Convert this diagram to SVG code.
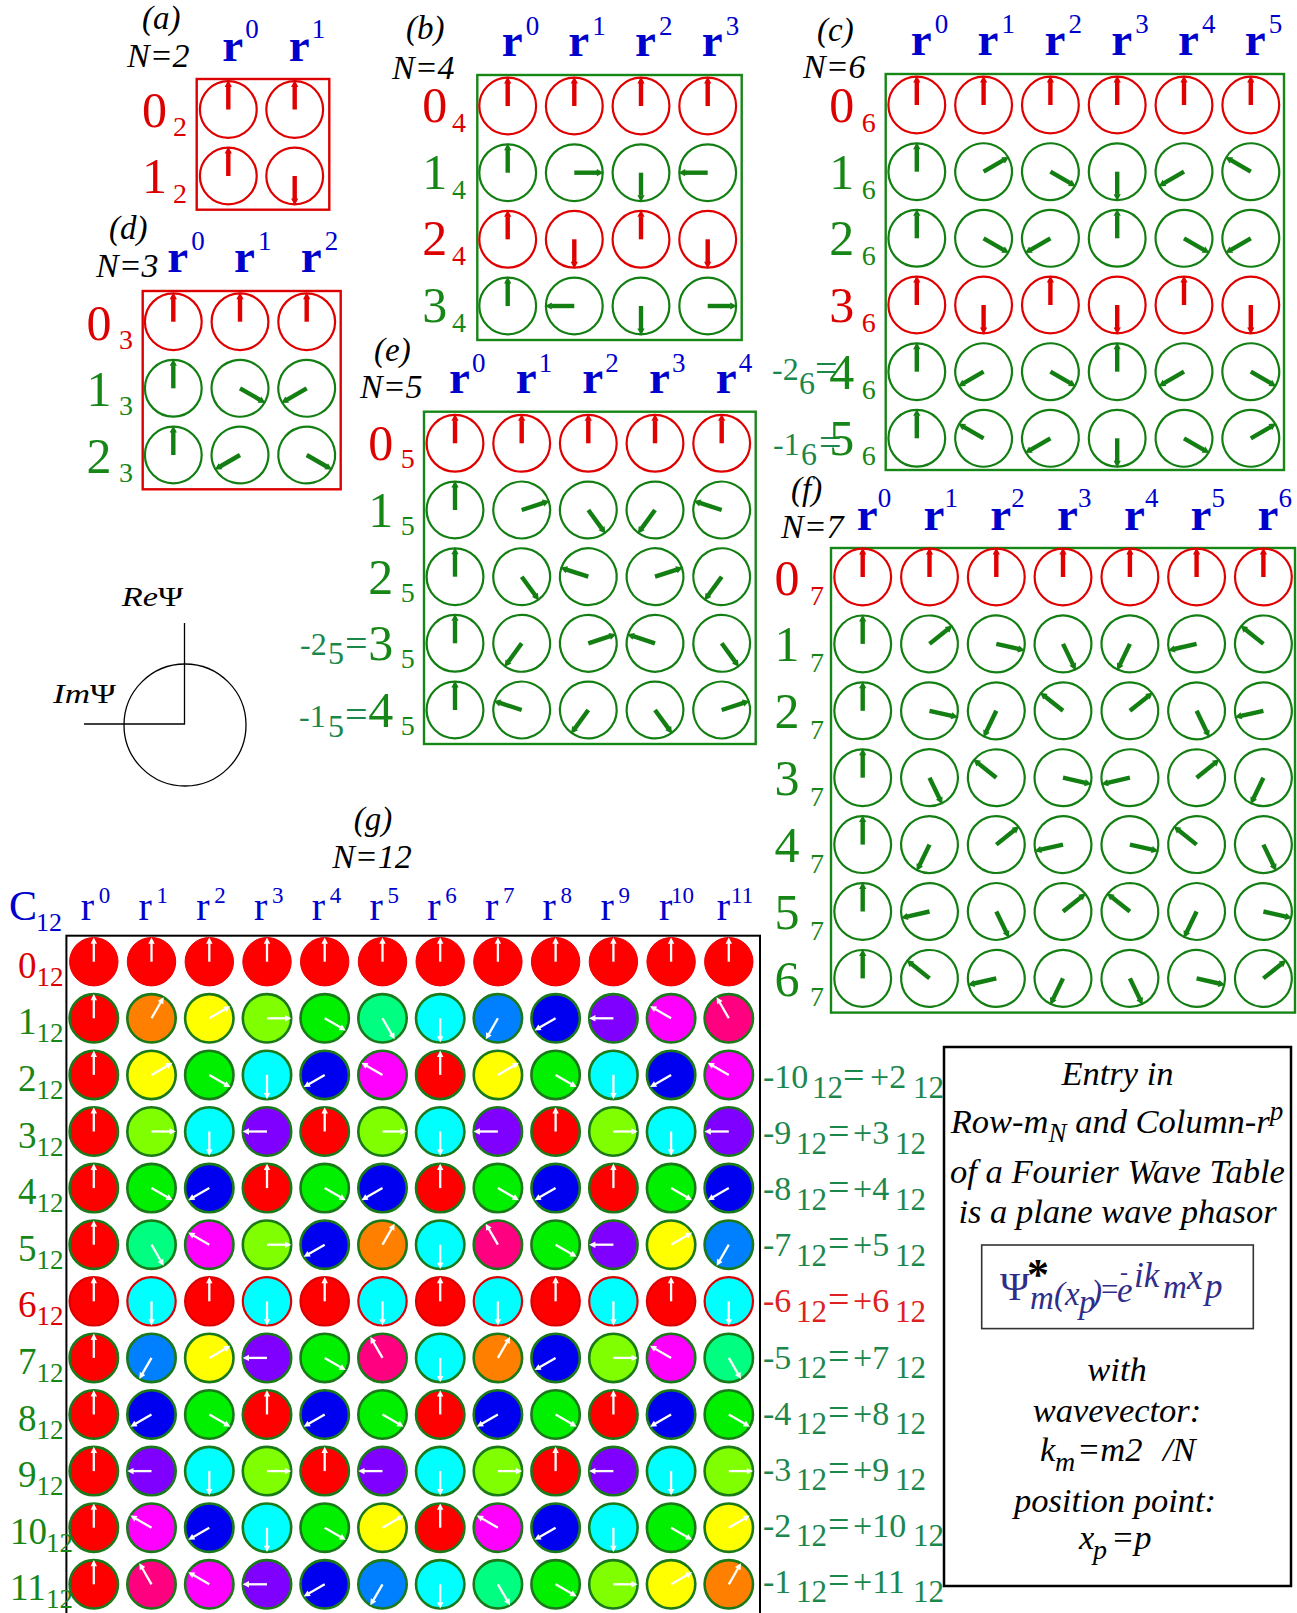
<svg xmlns="http://www.w3.org/2000/svg" width="1297" height="1613" viewBox="0 0 1297 1613">
<style>
text{font-family:"Liberation Serif","Times New Roman",serif}
.i{font-style:italic}
.R{fill:#dd0000}.G{fill:#168616}.B{fill:#0000cc}.T{fill:#1b874d}.K{fill:#000}.T6{fill:#dd2222}
.d{font-size:50px}.s{font-size:28px}.h{font-size:47px;font-weight:bold}.p{font-size:27px}.l{font-size:33px}
.pf{font-size:32px}.eq{font-size:40px}
.boxR{fill:none;stroke:#dd0000;stroke-width:2.4}.boxG{fill:none;stroke:#168616;stroke-width:2.4}
.gs{stroke:#1a7a1a;stroke-width:2.6}.rs{stroke:#dd0000;stroke-width:2.2}.r0{stroke:#e60000;stroke-width:1}
.d12{font-size:37px}.s12{font-size:27px}.h12{font-size:40px}.p12{font-size:23px}
.rl{font-size:31px}.rm{font-size:34px}.rq{font-size:38px}
.nt{font-size:34.5px;font-style:italic;fill:#000}
</style>
<defs>
<g id="pr"><circle r="28.4" fill="none" stroke="#e00000" stroke-width="2.2"/><path d="M0,0V-23" fill="none" stroke="#e00000" stroke-width="4.4"/><path d="M-3.6,-22.5L0,-29.4L3.6,-22.5Z" fill="#e00000" stroke="none"/></g>
<g id="pg"><circle r="28.4" fill="none" stroke="#137f13" stroke-width="2.2"/><path d="M0,0V-23" fill="none" stroke="#137f13" stroke-width="4.4"/><path d="M-3.6,-22.5L0,-29.4L3.6,-22.5Z" fill="#137f13" stroke="none"/></g>
<g id="pw"><path d="M0,0V-18.5" stroke="#fff" stroke-width="2.3" fill="none"/><path d="M-3.2,-18L0,-24.3L3.2,-18Z" fill="#fff" stroke="none"/></g>
<g id="q0"><circle r="24.2" fill="#ff0000"/><use href="#pw"/></g>
<g id="q1"><circle r="24.2" fill="#ff8000"/><use href="#pw" transform="rotate(30)"/></g>
<g id="q2"><circle r="24.2" fill="#ffff00"/><use href="#pw" transform="rotate(60)"/></g>
<g id="q3"><circle r="24.2" fill="#80ff00"/><use href="#pw" transform="rotate(90)"/></g>
<g id="q4"><circle r="24.2" fill="#00f000"/><use href="#pw" transform="rotate(120)"/></g>
<g id="q5"><circle r="24.2" fill="#00ff80"/><use href="#pw" transform="rotate(150)"/></g>
<g id="q6"><circle r="24.2" fill="#00ffff"/><use href="#pw" transform="rotate(180)"/></g>
<g id="q7"><circle r="24.2" fill="#0080ff"/><use href="#pw" transform="rotate(210)"/></g>
<g id="q8"><circle r="24.2" fill="#0000f0"/><use href="#pw" transform="rotate(240)"/></g>
<g id="q9"><circle r="24.2" fill="#8000ff"/><use href="#pw" transform="rotate(270)"/></g>
<g id="q10"><circle r="24.2" fill="#ff00ff"/><use href="#pw" transform="rotate(300)"/></g>
<g id="q11"><circle r="24.2" fill="#ff0080"/><use href="#pw" transform="rotate(330)"/></g>
</defs>
<rect width="1297" height="1613" fill="#fff"/>

<g id="panel-a">
<text class="i l K" x="142" y="29">(a)</text>
<text class="i K" font-size="34" x="127" y="67">N=2</text>
<text class="h B" x="222.3" y="61">r</text><text class="p B" x="245.3" y="38">0</text>
<text class="h B" x="288.7" y="61">r</text><text class="p B" x="311.7" y="38">1</text>
<rect class="boxR" x="196.7" y="79" width="132.6" height="130.7"/>
<text class="d R" x="167" y="127" text-anchor="end">0</text><text class="s R" x="173" y="136">2</text>
<text class="d R" x="167" y="193" text-anchor="end">1</text><text class="s R" x="173" y="203">2</text>
<use href="#pr" x="228.3" y="109.5"/>
<use href="#pr" x="294.7" y="109.5"/>
<use href="#pr" x="228.3" y="176"/>
<use href="#pr" transform="translate(294.7 176) rotate(180)"/>
</g>

<g id="panel-d">
<text class="i l K" x="109" y="239">(d)</text>
<text class="i K" font-size="34" x="96" y="277">N=3</text>
<text class="h B" x="167.3" y="272">r</text><text class="p B" x="191.3" y="250">0</text>
<text class="h B" x="234" y="272">r</text><text class="p B" x="258" y="250">1</text>
<text class="h B" x="300.7" y="272">r</text><text class="p B" x="324.7" y="250">2</text>
<rect class="boxR" x="142.7" y="291" width="198" height="198.3"/>
<text class="d R" x="111.5" y="339.7" text-anchor="end">0</text><text class="s R" x="119" y="348.7">3</text>
<text class="d G" x="111.5" y="406.3" text-anchor="end">1</text><text class="s G" x="119" y="415.3">3</text>
<text class="d G" x="111.5" y="473" text-anchor="end">2</text><text class="s G" x="119" y="482">3</text>
<use href="#pr" x="173.3" y="321.7"/><use href="#pr" x="240" y="321.7"/><use href="#pr" x="306.7" y="321.7"/>
<use href="#pg" x="173.3" y="388.3"/><use href="#pg" transform="translate(240 388.3) rotate(120)"/><use href="#pg" transform="translate(306.7 388.3) rotate(240)"/>
<use href="#pg" x="173.3" y="455"/><use href="#pg" transform="translate(240 455) rotate(240)"/><use href="#pg" transform="translate(306.7 455) rotate(120)"/>
</g>

<g id="panel-b">
<text class="i l K" x="406" y="39">(b)</text>
<text class="i K" font-size="34" x="392" y="79">N=4</text>
<text class="h B" x="501.7" y="56">r</text><text class="p B" x="525.7" y="35">0</text>
<text class="h B" x="568.3" y="56">r</text><text class="p B" x="592.3" y="35">1</text>
<text class="h B" x="635" y="56">r</text><text class="p B" x="659" y="35">2</text>
<text class="h B" x="701.7" y="56">r</text><text class="p B" x="725.7" y="35">3</text>
<rect class="boxG" x="477.3" y="75" width="264.4" height="265"/>
<text class="d R" x="447.3" y="122" text-anchor="end">0</text><text class="s R" x="452" y="132">4</text>
<text class="d G" x="447.3" y="188.7" text-anchor="end">1</text><text class="s G" x="452" y="198.7">4</text>
<text class="d R" x="447.3" y="255.3" text-anchor="end">2</text><text class="s R" x="452" y="265.3">4</text>
<text class="d G" x="447.3" y="322" text-anchor="end">3</text><text class="s G" x="452" y="332">4</text>
<use href="#pr" x="507.7" y="106"/><use href="#pr" x="574.3" y="106"/><use href="#pr" x="641" y="106"/><use href="#pr" x="707.7" y="106"/>
<use href="#pg" x="507.7" y="172.7"/><use href="#pg" transform="translate(574.3 172.7) rotate(90)"/><use href="#pg" transform="translate(641 172.7) rotate(180)"/><use href="#pg" transform="translate(707.7 172.7) rotate(270)"/>
<use href="#pr" x="507.7" y="239.3"/><use href="#pr" transform="translate(574.3 239.3) rotate(180)"/><use href="#pr" x="641" y="239.3"/><use href="#pr" transform="translate(707.7 239.3) rotate(180)"/>
<use href="#pg" x="507.7" y="306"/><use href="#pg" transform="translate(574.3 306) rotate(270)"/><use href="#pg" transform="translate(641 306) rotate(180)"/><use href="#pg" transform="translate(707.7 306) rotate(90)"/>
</g>

<g id="panel-c">
<text class="i l K" x="817" y="41">(c)</text>
<text class="i K" font-size="34" x="803" y="78">N=6</text>
<text class="h B" x="910.8" y="55">r</text><text class="p B" x="934.8" y="33">0</text>
<text class="h B" x="977.6" y="55">r</text><text class="p B" x="1001.6" y="33">1</text>
<text class="h B" x="1044.4" y="55">r</text><text class="p B" x="1068.4" y="33">2</text>
<text class="h B" x="1111.2" y="55">r</text><text class="p B" x="1135.2" y="33">3</text>
<text class="h B" x="1178" y="55">r</text><text class="p B" x="1202" y="33">4</text>
<text class="h B" x="1244.8" y="55">r</text><text class="p B" x="1268.8" y="33">5</text>
<rect class="boxG" x="885.7" y="74" width="398.3" height="396"/>
<text class="d R" x="854.2" y="122" text-anchor="end">0</text><text class="s R" x="861.7" y="132">6</text>
<text class="d G" x="854.2" y="188.7" text-anchor="end">1</text><text class="s G" x="861.7" y="198.7">6</text>
<text class="d G" x="854.2" y="255.3" text-anchor="end">2</text><text class="s G" x="861.7" y="265.3">6</text>
<text class="d R" x="854.2" y="322" text-anchor="end">3</text><text class="s R" x="861.7" y="332">6</text>
<text class="pf T" x="772" y="380">-2</text><text class="pf T" x="799" y="394">6</text><text class="eq T" x="815" y="382">=</text>
<text class="d G" x="854.2" y="388.7" text-anchor="end">4</text><text class="s G" x="861.7" y="398.7">6</text>
<text class="pf T" x="773" y="455">-1</text><text class="pf T" x="801" y="465">6</text><text class="eq T" x="819" y="456">=</text>
<text class="d G" x="854.2" y="455.3" text-anchor="end">5</text><text class="s G" x="861.7" y="465.3">6</text>
<use href="#pr" x="916.8" y="105"/><use href="#pr" x="983.6" y="105"/><use href="#pr" x="1050.4" y="105"/><use href="#pr" x="1117.2" y="105"/><use href="#pr" x="1184" y="105"/><use href="#pr" x="1250.8" y="105"/>
<use href="#pg" x="916.8" y="171.7"/><use href="#pg" transform="translate(983.6 171.7) rotate(60)"/><use href="#pg" transform="translate(1050.4 171.7) rotate(120)"/><use href="#pg" transform="translate(1117.2 171.7) rotate(180)"/><use href="#pg" transform="translate(1184 171.7) rotate(240)"/><use href="#pg" transform="translate(1250.8 171.7) rotate(300)"/>
<use href="#pg" x="916.8" y="238.3"/><use href="#pg" transform="translate(983.6 238.3) rotate(120)"/><use href="#pg" transform="translate(1050.4 238.3) rotate(240)"/><use href="#pg" x="1117.2" y="238.3"/><use href="#pg" transform="translate(1184 238.3) rotate(120)"/><use href="#pg" transform="translate(1250.8 238.3) rotate(240)"/>
<use href="#pr" x="916.8" y="305"/><use href="#pr" transform="translate(983.6 305) rotate(180)"/><use href="#pr" x="1050.4" y="305"/><use href="#pr" transform="translate(1117.2 305) rotate(180)"/><use href="#pr" x="1184" y="305"/><use href="#pr" transform="translate(1250.8 305) rotate(180)"/>
<use href="#pg" x="916.8" y="371.7"/><use href="#pg" transform="translate(983.6 371.7) rotate(240)"/><use href="#pg" transform="translate(1050.4 371.7) rotate(120)"/><use href="#pg" x="1117.2" y="371.7"/><use href="#pg" transform="translate(1184 371.7) rotate(240)"/><use href="#pg" transform="translate(1250.8 371.7) rotate(120)"/>
<use href="#pg" x="916.8" y="438.3"/><use href="#pg" transform="translate(983.6 438.3) rotate(300)"/><use href="#pg" transform="translate(1050.4 438.3) rotate(240)"/><use href="#pg" transform="translate(1117.2 438.3) rotate(180)"/><use href="#pg" transform="translate(1184 438.3) rotate(120)"/><use href="#pg" transform="translate(1250.8 438.3) rotate(60)"/>
</g>

<g id="panel-e">
<text class="i l K" x="374" y="361">(e)</text>
<text class="i K" font-size="34" x="360" y="398">N=5</text>
<text class="h B" x="449" y="393">r</text><text class="p B" x="472" y="371.7">0</text>
<text class="h B" x="515.7" y="393">r</text><text class="p B" x="538.7" y="371.7">1</text>
<text class="h B" x="582.3" y="393">r</text><text class="p B" x="605.3" y="371.7">2</text>
<text class="h B" x="649" y="393">r</text><text class="p B" x="672" y="371.7">3</text>
<text class="h B" x="715.7" y="393">r</text><text class="p B" x="738.7" y="371.7">4</text>
<rect class="boxG" x="424" y="411.7" width="331.7" height="332.3"/>
<text class="d R" x="393.3" y="460.3" text-anchor="end">0</text><text class="s R" x="400.7" y="468.3">5</text>
<text class="d G" x="393.3" y="527" text-anchor="end">1</text><text class="s G" x="400.7" y="535">5</text>
<text class="d G" x="393.3" y="593.7" text-anchor="end">2</text><text class="s G" x="400.7" y="601.7">5</text>
<text class="pf T" x="300" y="655">-2</text><text class="pf T" x="328" y="664">5</text><text class="eq T" x="345" y="657">=</text>
<text class="d G" x="393.3" y="660.3" text-anchor="end">3</text><text class="s G" x="400.7" y="668.3">5</text>
<text class="pf T" x="299" y="727">-1</text><text class="pf T" x="328" y="737">5</text><text class="eq T" x="345" y="728">=</text>
<text class="d G" x="393.3" y="727" text-anchor="end">4</text><text class="s G" x="400.7" y="735">5</text>
<use href="#pr" x="455" y="443.3"/><use href="#pr" x="521.7" y="443.3"/><use href="#pr" x="588.3" y="443.3"/><use href="#pr" x="655" y="443.3"/><use href="#pr" x="721.7" y="443.3"/>
<use href="#pg" x="455" y="510"/><use href="#pg" transform="translate(521.7 510) rotate(72)"/><use href="#pg" transform="translate(588.3 510) rotate(144)"/><use href="#pg" transform="translate(655 510) rotate(216)"/><use href="#pg" transform="translate(721.7 510) rotate(288)"/>
<use href="#pg" x="455" y="576.7"/><use href="#pg" transform="translate(521.7 576.7) rotate(144)"/><use href="#pg" transform="translate(588.3 576.7) rotate(288)"/><use href="#pg" transform="translate(655 576.7) rotate(72)"/><use href="#pg" transform="translate(721.7 576.7) rotate(216)"/>
<use href="#pg" x="455" y="643.3"/><use href="#pg" transform="translate(521.7 643.3) rotate(216)"/><use href="#pg" transform="translate(588.3 643.3) rotate(72)"/><use href="#pg" transform="translate(655 643.3) rotate(288)"/><use href="#pg" transform="translate(721.7 643.3) rotate(144)"/>
<use href="#pg" x="455" y="710"/><use href="#pg" transform="translate(521.7 710) rotate(288)"/><use href="#pg" transform="translate(588.3 710) rotate(216)"/><use href="#pg" transform="translate(655 710) rotate(144)"/><use href="#pg" transform="translate(721.7 710) rotate(72)"/>
</g>

<g id="panel-f">
<text class="i l K" x="791" y="500">(f)</text>
<text class="i K" font-size="34" x="781" y="538">N=7</text>
<text class="h B" x="856.7" y="529.6">r</text><text class="p B" x="877.7" y="506.8">0</text>
<text class="h B" x="923.5" y="529.6">r</text><text class="p B" x="944.5" y="506.8">1</text>
<text class="h B" x="990.3" y="529.6">r</text><text class="p B" x="1011.3" y="506.8">2</text>
<text class="h B" x="1057" y="529.6">r</text><text class="p B" x="1078" y="506.8">3</text>
<text class="h B" x="1123.9" y="529.6">r</text><text class="p B" x="1144.9" y="506.8">4</text>
<text class="h B" x="1190.6" y="529.6">r</text><text class="p B" x="1211.6" y="506.8">5</text>
<text class="h B" x="1257.4" y="529.6">r</text><text class="p B" x="1278.4" y="506.8">6</text>
<rect class="boxG" x="831" y="548" width="464" height="464.6"/>
<text class="d R" x="799.4" y="594.5" text-anchor="end">0</text><text class="s R" x="810" y="605">7</text>
<text class="d G" x="799.4" y="661.4" text-anchor="end">1</text><text class="s G" x="810" y="671.9">7</text>
<text class="d G" x="799.4" y="728.3" text-anchor="end">2</text><text class="s G" x="810" y="738.8">7</text>
<text class="d G" x="799.4" y="795.2" text-anchor="end">3</text><text class="s G" x="810" y="805.7">7</text>
<text class="d G" x="799.4" y="862.1" text-anchor="end">4</text><text class="s G" x="810" y="872.6">7</text>
<text class="d G" x="799.4" y="929" text-anchor="end">5</text><text class="s G" x="810" y="939.5">7</text>
<text class="d G" x="799.4" y="995.9" text-anchor="end">6</text><text class="s G" x="810" y="1006.4">7</text>
<use href="#pr" x="862.7" y="577"/><use href="#pr" x="929.5" y="577"/><use href="#pr" x="996.3" y="577"/><use href="#pr" x="1063" y="577"/><use href="#pr" x="1129.9" y="577"/><use href="#pr" x="1196.6" y="577"/><use href="#pr" x="1263.4" y="577"/>
<use href="#pg" x="862.7" y="643.9"/><use href="#pg" transform="translate(929.5 643.9) rotate(51.43)"/><use href="#pg" transform="translate(996.3 643.9) rotate(102.86)"/><use href="#pg" transform="translate(1063 643.9) rotate(154.29)"/><use href="#pg" transform="translate(1129.9 643.9) rotate(205.71)"/><use href="#pg" transform="translate(1196.6 643.9) rotate(257.14)"/><use href="#pg" transform="translate(1263.4 643.9) rotate(308.57)"/>
<use href="#pg" x="862.7" y="710.8"/><use href="#pg" transform="translate(929.5 710.8) rotate(102.86)"/><use href="#pg" transform="translate(996.3 710.8) rotate(205.71)"/><use href="#pg" transform="translate(1063 710.8) rotate(308.57)"/><use href="#pg" transform="translate(1129.9 710.8) rotate(51.43)"/><use href="#pg" transform="translate(1196.6 710.8) rotate(154.29)"/><use href="#pg" transform="translate(1263.4 710.8) rotate(257.14)"/>
<use href="#pg" x="862.7" y="777.7"/><use href="#pg" transform="translate(929.5 777.7) rotate(154.29)"/><use href="#pg" transform="translate(996.3 777.7) rotate(308.57)"/><use href="#pg" transform="translate(1063 777.7) rotate(102.86)"/><use href="#pg" transform="translate(1129.9 777.7) rotate(257.14)"/><use href="#pg" transform="translate(1196.6 777.7) rotate(51.43)"/><use href="#pg" transform="translate(1263.4 777.7) rotate(205.71)"/>
<use href="#pg" x="862.7" y="844.6"/><use href="#pg" transform="translate(929.5 844.6) rotate(205.71)"/><use href="#pg" transform="translate(996.3 844.6) rotate(51.43)"/><use href="#pg" transform="translate(1063 844.6) rotate(257.14)"/><use href="#pg" transform="translate(1129.9 844.6) rotate(102.86)"/><use href="#pg" transform="translate(1196.6 844.6) rotate(308.57)"/><use href="#pg" transform="translate(1263.4 844.6) rotate(154.29)"/>
<use href="#pg" x="862.7" y="911.5"/><use href="#pg" transform="translate(929.5 911.5) rotate(257.14)"/><use href="#pg" transform="translate(996.3 911.5) rotate(154.29)"/><use href="#pg" transform="translate(1063 911.5) rotate(51.43)"/><use href="#pg" transform="translate(1129.9 911.5) rotate(308.57)"/><use href="#pg" transform="translate(1196.6 911.5) rotate(205.71)"/><use href="#pg" transform="translate(1263.4 911.5) rotate(102.86)"/>
<use href="#pg" x="862.7" y="978.4"/><use href="#pg" transform="translate(929.5 978.4) rotate(308.57)"/><use href="#pg" transform="translate(996.3 978.4) rotate(257.14)"/><use href="#pg" transform="translate(1063 978.4) rotate(205.71)"/><use href="#pg" transform="translate(1129.9 978.4) rotate(154.29)"/><use href="#pg" transform="translate(1196.6 978.4) rotate(102.86)"/><use href="#pg" transform="translate(1263.4 978.4) rotate(51.43)"/>
</g>

<g id="axes">
<circle cx="185" cy="725" r="61" fill="none" stroke="#000" stroke-width="1.3"/>
<path d="M184.5,623V724H84" fill="none" stroke="#000" stroke-width="1.3"/>
<text class="K" x="121.7" y="606" font-size="28" textLength="61.6" lengthAdjust="spacingAndGlyphs"><tspan class="i">Re</tspan>Ψ</text>
<text class="K" x="53" y="703" font-size="28" textLength="63" lengthAdjust="spacingAndGlyphs"><tspan class="i">Im</tspan>Ψ</text>
</g>

<g id="panel-g">
<text class="i K" font-size="33" x="373" y="830" text-anchor="middle">(g)</text>
<text class="i K" font-size="34" x="372" y="868" text-anchor="middle">N=12</text>
<text class="B" font-size="42" x="9" y="920">C</text><text class="B" font-size="26" x="36" y="931">12</text>
<text class="h12 B" x="80.8" y="920">r</text><text class="p12 B" x="98.8" y="903">0</text>
<text class="h12 B" x="138.5" y="920">r</text><text class="p12 B" x="156.5" y="903">1</text>
<text class="h12 B" x="196.3" y="920">r</text><text class="p12 B" x="214.3" y="903">2</text>
<text class="h12 B" x="254" y="920">r</text><text class="p12 B" x="272" y="903">3</text>
<text class="h12 B" x="311.7" y="920">r</text><text class="p12 B" x="329.7" y="903">4</text>
<text class="h12 B" x="369.5" y="920">r</text><text class="p12 B" x="387.5" y="903">5</text>
<text class="h12 B" x="427.2" y="920">r</text><text class="p12 B" x="445.2" y="903">6</text>
<text class="h12 B" x="484.9" y="920">r</text><text class="p12 B" x="502.9" y="903">7</text>
<text class="h12 B" x="542.6" y="920">r</text><text class="p12 B" x="560.6" y="903">8</text>
<text class="h12 B" x="600.4" y="920">r</text><text class="p12 B" x="618.4" y="903">9</text>
<text class="h12 B" x="659" y="920">r</text><text class="p12 B" x="671" y="903">10</text>
<text class="h12 B" x="716.8" y="920">r</text><text class="p12 B" x="731" y="903">11</text>
<rect x="66.4" y="935.7" width="693.6" height="700" fill="none" stroke="#000" stroke-width="2"/>
<text class="d12 R" x="18" y="977.7">0</text><text class="s12 R" x="36.5" y="985.7">12</text>
<text class="d12 G" x="18" y="1034.3">1</text><text class="s12 G" x="36.5" y="1042.3">12</text>
<text class="d12 G" x="18" y="1090.9">2</text><text class="s12 G" x="36.5" y="1098.9">12</text>
<text class="d12 G" x="18" y="1147.5">3</text><text class="s12 G" x="36.5" y="1155.5">12</text>
<text class="d12 G" x="18" y="1204.1">4</text><text class="s12 G" x="36.5" y="1212.1">12</text>
<text class="d12 G" x="18" y="1260.7">5</text><text class="s12 G" x="36.5" y="1268.7">12</text>
<text class="d12 R" x="18" y="1317.3">6</text><text class="s12 R" x="36.5" y="1325.3">12</text>
<text class="d12 G" x="18" y="1373.9">7</text><text class="s12 G" x="36.5" y="1381.9">12</text>
<text class="d12 G" x="18" y="1430.5">8</text><text class="s12 G" x="36.5" y="1438.5">12</text>
<text class="d12 G" x="18" y="1487.1">9</text><text class="s12 G" x="36.5" y="1495.1">12</text>
<text class="d12 G" x="10" y="1543.7">10</text><text class="s12 G" x="46" y="1551.7">12</text>
<text class="d12 G" x="10" y="1600.3">11</text><text class="s12 G" x="46" y="1608.3">12</text>
<g class="r0" transform="translate(0 961.7)"><use href="#q0" x="93.8"/><use href="#q0" x="151.5"/><use href="#q0" x="209.3"/><use href="#q0" x="267"/><use href="#q0" x="324.7"/><use href="#q0" x="382.5"/><use href="#q0" x="440.2"/><use href="#q0" x="497.9"/><use href="#q0" x="555.6"/><use href="#q0" x="613.4"/><use href="#q0" x="671.1"/><use href="#q0" x="728.8"/></g>
<g class="gs" transform="translate(0 1018.3)"><use href="#q0" x="93.8"/><use href="#q1" x="151.5"/><use href="#q2" x="209.3"/><use href="#q3" x="267"/><use href="#q4" x="324.7"/><use href="#q5" x="382.5"/><use href="#q6" x="440.2"/><use href="#q7" x="497.9"/><use href="#q8" x="555.6"/><use href="#q9" x="613.4"/><use href="#q10" x="671.1"/><use href="#q11" x="728.8"/></g>
<g class="gs" transform="translate(0 1074.9)"><use href="#q0" x="93.8"/><use href="#q2" x="151.5"/><use href="#q4" x="209.3"/><use href="#q6" x="267"/><use href="#q8" x="324.7"/><use href="#q10" x="382.5"/><use href="#q0" x="440.2"/><use href="#q2" x="497.9"/><use href="#q4" x="555.6"/><use href="#q6" x="613.4"/><use href="#q8" x="671.1"/><use href="#q10" x="728.8"/></g>
<g class="gs" transform="translate(0 1131.5)"><use href="#q0" x="93.8"/><use href="#q3" x="151.5"/><use href="#q6" x="209.3"/><use href="#q9" x="267"/><use href="#q0" x="324.7"/><use href="#q3" x="382.5"/><use href="#q6" x="440.2"/><use href="#q9" x="497.9"/><use href="#q0" x="555.6"/><use href="#q3" x="613.4"/><use href="#q6" x="671.1"/><use href="#q9" x="728.8"/></g>
<g class="gs" transform="translate(0 1188.1)"><use href="#q0" x="93.8"/><use href="#q4" x="151.5"/><use href="#q8" x="209.3"/><use href="#q0" x="267"/><use href="#q4" x="324.7"/><use href="#q8" x="382.5"/><use href="#q0" x="440.2"/><use href="#q4" x="497.9"/><use href="#q8" x="555.6"/><use href="#q0" x="613.4"/><use href="#q4" x="671.1"/><use href="#q8" x="728.8"/></g>
<g class="gs" transform="translate(0 1244.7)"><use href="#q0" x="93.8"/><use href="#q5" x="151.5"/><use href="#q10" x="209.3"/><use href="#q3" x="267"/><use href="#q8" x="324.7"/><use href="#q1" x="382.5"/><use href="#q6" x="440.2"/><use href="#q11" x="497.9"/><use href="#q4" x="555.6"/><use href="#q9" x="613.4"/><use href="#q2" x="671.1"/><use href="#q7" x="728.8"/></g>
<g class="rs" transform="translate(0 1301.3)"><use href="#q0" x="93.8"/><use href="#q6" x="151.5"/><use href="#q0" x="209.3"/><use href="#q6" x="267"/><use href="#q0" x="324.7"/><use href="#q6" x="382.5"/><use href="#q0" x="440.2"/><use href="#q6" x="497.9"/><use href="#q0" x="555.6"/><use href="#q6" x="613.4"/><use href="#q0" x="671.1"/><use href="#q6" x="728.8"/></g>
<g class="gs" transform="translate(0 1357.9)"><use href="#q0" x="93.8"/><use href="#q7" x="151.5"/><use href="#q2" x="209.3"/><use href="#q9" x="267"/><use href="#q4" x="324.7"/><use href="#q11" x="382.5"/><use href="#q6" x="440.2"/><use href="#q1" x="497.9"/><use href="#q8" x="555.6"/><use href="#q3" x="613.4"/><use href="#q10" x="671.1"/><use href="#q5" x="728.8"/></g>
<g class="gs" transform="translate(0 1414.5)"><use href="#q0" x="93.8"/><use href="#q8" x="151.5"/><use href="#q4" x="209.3"/><use href="#q0" x="267"/><use href="#q8" x="324.7"/><use href="#q4" x="382.5"/><use href="#q0" x="440.2"/><use href="#q8" x="497.9"/><use href="#q4" x="555.6"/><use href="#q0" x="613.4"/><use href="#q8" x="671.1"/><use href="#q4" x="728.8"/></g>
<g class="gs" transform="translate(0 1471.1)"><use href="#q0" x="93.8"/><use href="#q9" x="151.5"/><use href="#q6" x="209.3"/><use href="#q3" x="267"/><use href="#q0" x="324.7"/><use href="#q9" x="382.5"/><use href="#q6" x="440.2"/><use href="#q3" x="497.9"/><use href="#q0" x="555.6"/><use href="#q9" x="613.4"/><use href="#q6" x="671.1"/><use href="#q3" x="728.8"/></g>
<g class="gs" transform="translate(0 1527.7)"><use href="#q0" x="93.8"/><use href="#q10" x="151.5"/><use href="#q8" x="209.3"/><use href="#q6" x="267"/><use href="#q4" x="324.7"/><use href="#q2" x="382.5"/><use href="#q0" x="440.2"/><use href="#q10" x="497.9"/><use href="#q8" x="555.6"/><use href="#q6" x="613.4"/><use href="#q4" x="671.1"/><use href="#q2" x="728.8"/></g>
<g class="gs" transform="translate(0 1584.3)"><use href="#q0" x="93.8"/><use href="#q11" x="151.5"/><use href="#q10" x="209.3"/><use href="#q9" x="267"/><use href="#q8" x="324.7"/><use href="#q7" x="382.5"/><use href="#q6" x="440.2"/><use href="#q5" x="497.9"/><use href="#q4" x="555.6"/><use href="#q3" x="613.4"/><use href="#q2" x="671.1"/><use href="#q1" x="728.8"/></g>
</g>

<g id="equivalences">
<text class="rl T"><tspan class="rm" x="763" y="1088">-10</tspan><tspan x="812" y="1097.5">12</tspan><tspan class="rq" x="843" y="1088">=</tspan><tspan class="rm" x="870" y="1088">+2</tspan><tspan x="913" y="1097.5">12</tspan></text>
<text class="rl T"><tspan class="rm" x="763" y="1144.1">-9</tspan><tspan x="796" y="1153.6">12</tspan><tspan class="rq" x="828" y="1144.1">=</tspan><tspan class="rm" x="853" y="1144.1">+3</tspan><tspan x="895" y="1153.6">12</tspan></text>
<text class="rl T"><tspan class="rm" x="763" y="1200.2">-8</tspan><tspan x="796" y="1209.7">12</tspan><tspan class="rq" x="828" y="1200.2">=</tspan><tspan class="rm" x="853" y="1200.2">+4</tspan><tspan x="895" y="1209.7">12</tspan></text>
<text class="rl T"><tspan class="rm" x="763" y="1256.3">-7</tspan><tspan x="796" y="1265.8">12</tspan><tspan class="rq" x="828" y="1256.3">=</tspan><tspan class="rm" x="853" y="1256.3">+5</tspan><tspan x="895" y="1265.8">12</tspan></text>
<text class="rl T6"><tspan class="rm" x="763" y="1312.4">-6</tspan><tspan x="796" y="1321.9">12</tspan><tspan class="rq" x="828" y="1312.4">=</tspan><tspan class="rm" x="853" y="1312.4">+6</tspan><tspan x="895" y="1321.9">12</tspan></text>
<text class="rl T"><tspan class="rm" x="763" y="1368.5">-5</tspan><tspan x="796" y="1378">12</tspan><tspan class="rq" x="828" y="1368.5">=</tspan><tspan class="rm" x="853" y="1368.5">+7</tspan><tspan x="895" y="1378">12</tspan></text>
<text class="rl T"><tspan class="rm" x="763" y="1424.6">-4</tspan><tspan x="796" y="1434.1">12</tspan><tspan class="rq" x="828" y="1424.6">=</tspan><tspan class="rm" x="853" y="1424.6">+8</tspan><tspan x="895" y="1434.1">12</tspan></text>
<text class="rl T"><tspan class="rm" x="763" y="1480.7">-3</tspan><tspan x="796" y="1490.2">12</tspan><tspan class="rq" x="828" y="1480.7">=</tspan><tspan class="rm" x="853" y="1480.7">+9</tspan><tspan x="895" y="1490.2">12</tspan></text>
<text class="rl T"><tspan class="rm" x="763" y="1536.8">-2</tspan><tspan x="796" y="1546.3">12</tspan><tspan class="rq" x="828" y="1536.8">=</tspan><tspan class="rm" x="853" y="1536.8">+10</tspan><tspan x="913" y="1546.3">12</tspan></text>
<text class="rl T"><tspan class="rm" x="763" y="1592.9">-1</tspan><tspan x="796" y="1602.4">12</tspan><tspan class="rq" x="828" y="1592.9">=</tspan><tspan class="rm" x="853" y="1592.9">+11</tspan><tspan x="913" y="1602.4">12</tspan></text>
</g>

<g id="note">
<rect x="944" y="1047" width="347" height="539" fill="none" stroke="#000" stroke-width="2.5"/>
<text class="nt" x="1117.5" y="1085" text-anchor="middle">Entry in</text>
<text class="nt" x="1117" y="1133" text-anchor="middle">Row-m<tspan dy="9" font-size="27">N</tspan><tspan dy="-9"> and Column-r</tspan><tspan dy="-13" font-size="27">p</tspan></text>
<text class="nt" x="1117.5" y="1182.5" text-anchor="middle">of a Fourier Wave Table</text>
<text class="nt" x="1117.5" y="1222.5" text-anchor="middle">is a plane wave phasor</text>
<rect x="981.7" y="1245" width="271.6" height="83.6" fill="none" stroke="#333" stroke-width="1.6"/>
<text class="i" fill="#2e2e8a" font-size="35"><tspan x="1000" y="1300" font-style="normal" font-size="40">Ψ</tspan><tspan x="1030" y="1309" font-size="33">m</tspan><tspan x="1054" y="1305" font-size="33">(x</tspan><tspan x="1079" y="1313" font-size="33">p</tspan><tspan x="1091" y="1303" font-size="33">)</tspan><tspan x="1099" y="1300" font-size="31">=</tspan><tspan x="1117" y="1302">e</tspan><tspan x="1120" y="1280" font-size="24">-</tspan><tspan x="1134" y="1287">ik</tspan><tspan x="1163" y="1298" font-size="33">m</tspan><tspan x="1187" y="1289">x</tspan><tspan x="1205" y="1298">p</tspan></text>
<text x="1027" y="1289" font-size="44" font-weight="bold" fill="#000">*</text>
<text class="nt" x="1117" y="1381.4" text-anchor="middle">with</text>
<text class="nt" x="1117" y="1422.3" text-anchor="middle">wavevector:</text>
<text class="nt"><tspan x="1040" y="1461.4">k</tspan><tspan x="1055" y="1470.7" font-size="28">m</tspan><tspan x="1077" y="1461.4">=m2</tspan><tspan x="1163" y="1461.4">/N</tspan></text>
<text class="nt" x="1115" y="1511.6" text-anchor="middle">position point:</text>
<text class="nt"><tspan x="1079" y="1548.8">x</tspan><tspan x="1093" y="1559" font-size="28">p</tspan><tspan x="1111" y="1548.8">=p</tspan></text>
</g>
</svg>
